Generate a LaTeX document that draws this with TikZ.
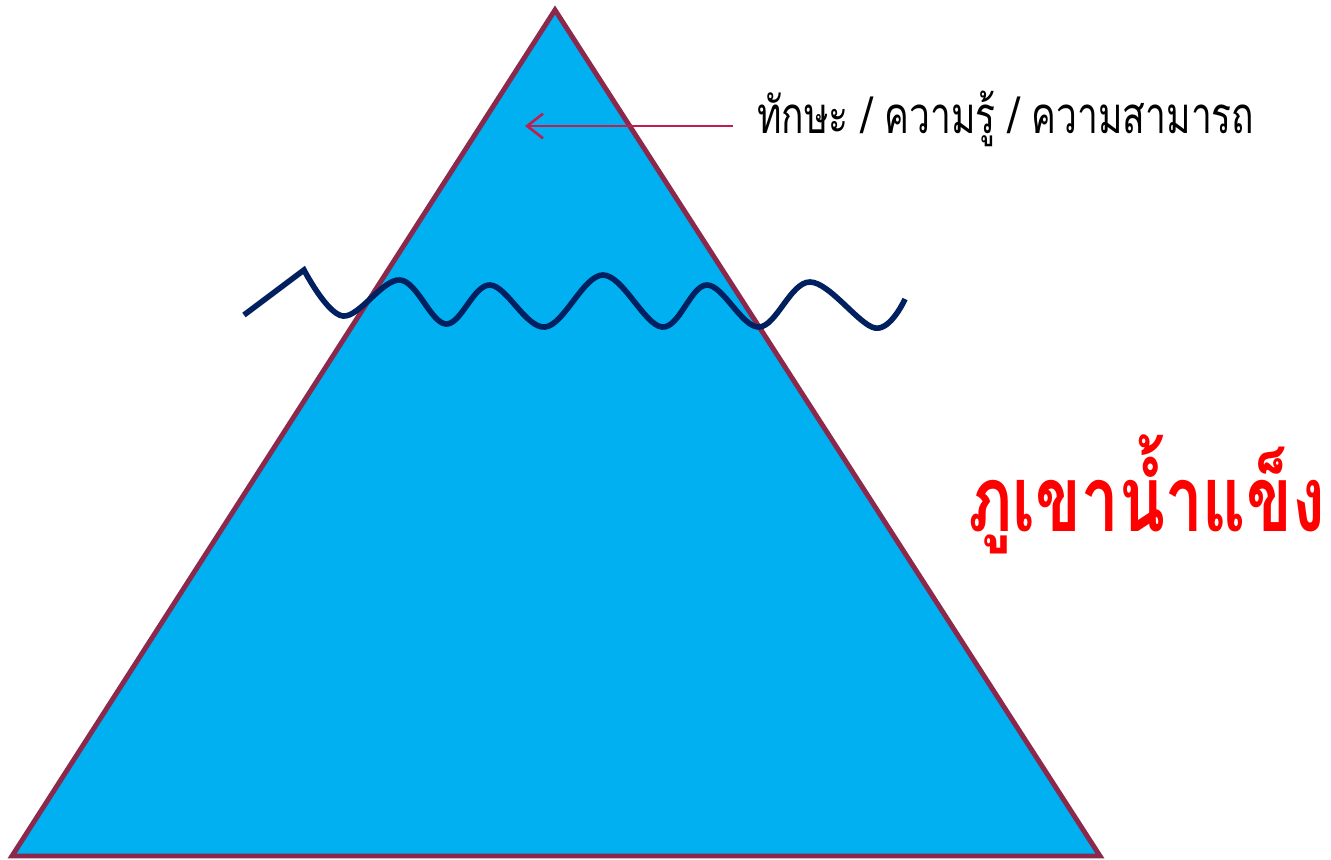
\documentclass[tikz,border=0pt]{standalone}
\usepackage{fontspec}
\newfontfamily\thaifont[Script=Thai]{Loma}
\usetikzlibrary{arrows.meta,positioning}
\definecolor{iceblue}{HTML}{00B0F0}
\definecolor{iceedge}{RGB}{139,40,75}
\definecolor{wavenavy}{HTML}{002060}
\definecolor{arrowred}{RGB}{192,30,80}

\begin{document}
\begin{tikzpicture}[x=0.02cm,y=-0.02cm,
  ice/.style={draw=iceedge,line width=2.8pt,fill=iceblue,line join=miter},
  sea/.style={draw=wavenavy,line width=3.2pt,line join=miter},
  pointer/.style={draw=arrowred,line width=1.5pt,-{Straight Barb[length=9pt,width=14pt]}},
  label/.style={anchor=base west,inner sep=0pt}]
\useasboundingbox (0,0) rectangle (1331,859);
% the iceberg
\coordinate (top) at (555,10);
\coordinate (bl) at (12,856);
\coordinate (br) at (1100,856);
\draw[ice] (top) -- (br) -- (bl) -- cycle;
% water line
\draw[sea] (244,315) -- plot[smooth,tension=0.6] coordinates {(304,270) (343,316) (400,280) (446,324) (490,285)
  (545,327) (603,275) (662,327) (707,285) (759,327) (810,282) (875,328) (905,299)};
% labels
\node[label,font=\thaifont\fontsize{29}{31}\selectfont] (skill) at (757,133) {\scalebox{0.73}[1]{ทักษะ / ความรู้ / ความสามารถ}};
\node[label,text=red,font=\thaifont\bfseries\fontsize{52}{56}\selectfont] (title) at (968,531) {\scalebox{0.735}[1]{ภูเขาน้ำแข็ง}};
\coordinate (tail) at (733,126);
\coordinate (tip) at (525,126);
\draw[pointer] (tail) -- (tip);
\end{tikzpicture}
\end{document}
